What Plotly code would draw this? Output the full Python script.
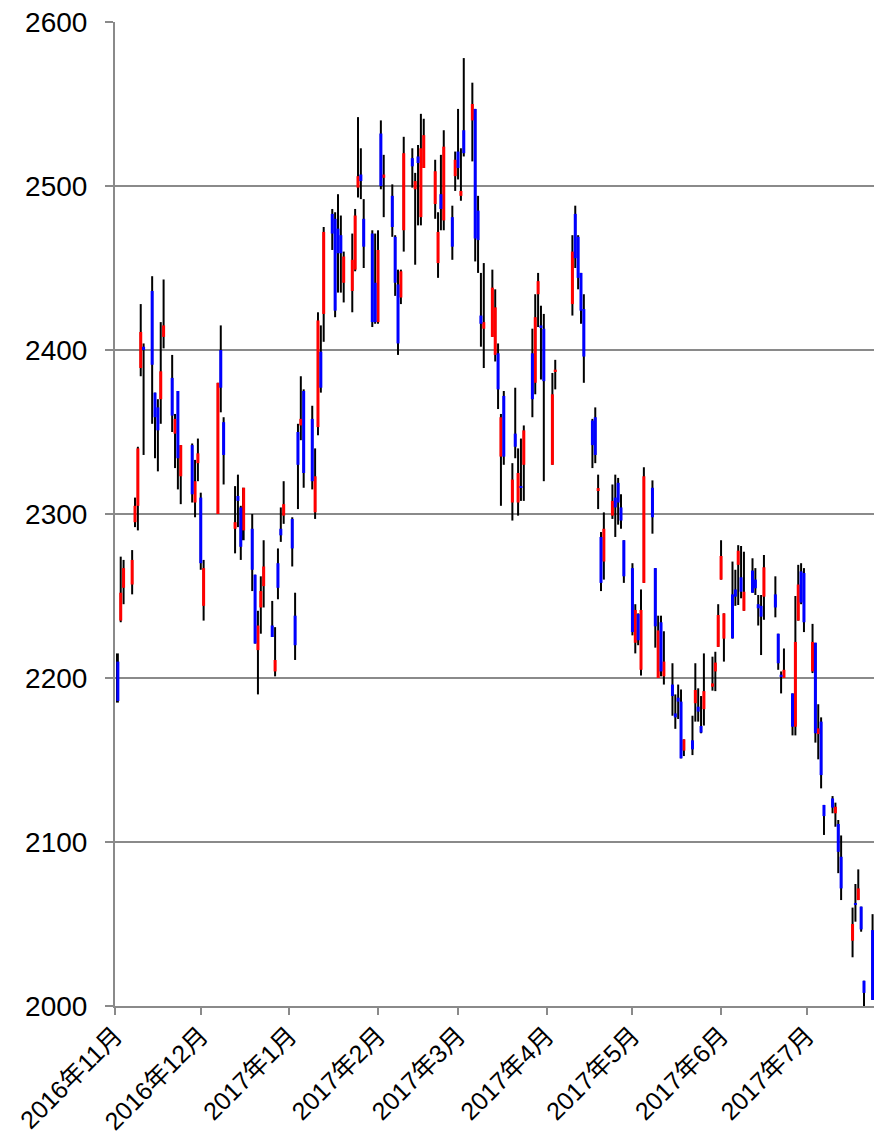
import plotly.graph_objects as go

dates = [
    "2016-11-02", "2016-11-03", "2016-11-04", "2016-11-07", "2016-11-08", "2016-11-09", "2016-11-10", "2016-11-11",
    "2016-11-14", "2016-11-15", "2016-11-16", "2016-11-17", "2016-11-18", "2016-11-21", "2016-11-22", "2016-11-23",
    "2016-11-24", "2016-11-28", "2016-11-29", "2016-11-30", "2016-12-01", "2016-12-02", "2016-12-07", "2016-12-08",
    "2016-12-09", "2016-12-13", "2016-12-14", "2016-12-15", "2016-12-16", "2016-12-19", "2016-12-20", "2016-12-21",
    "2016-12-22", "2016-12-23", "2016-12-26", "2016-12-27", "2016-12-28", "2016-12-29", "2016-12-30", "2017-01-02",
    "2017-01-03", "2017-01-04", "2017-01-05", "2017-01-06", "2017-01-09", "2017-01-10", "2017-01-11", "2017-01-12",
    "2017-01-13", "2017-01-16", "2017-01-17", "2017-01-18", "2017-01-19", "2017-01-20", "2017-01-23", "2017-01-24",
    "2017-01-25", "2017-01-26", "2017-01-27", "2017-01-30", "2017-01-31", "2017-02-01", "2017-02-02", "2017-02-03",
    "2017-02-06", "2017-02-07", "2017-02-08", "2017-02-09", "2017-02-10", "2017-02-13", "2017-02-14", "2017-02-15",
    "2017-02-16", "2017-02-17", "2017-02-21", "2017-02-22", "2017-02-23", "2017-02-24", "2017-02-27", "2017-02-28",
    "2017-03-01", "2017-03-02", "2017-03-03", "2017-03-06", "2017-03-07", "2017-03-08", "2017-03-09", "2017-03-10",
    "2017-03-13", "2017-03-14", "2017-03-15", "2017-03-16", "2017-03-17", "2017-03-20", "2017-03-21", "2017-03-22",
    "2017-03-23", "2017-03-24", "2017-03-27", "2017-03-28", "2017-03-29", "2017-03-30", "2017-03-31", "2017-04-03",
    "2017-04-04", "2017-04-10", "2017-04-11", "2017-04-12", "2017-04-13", "2017-04-14", "2017-04-17", "2017-04-18",
    "2017-04-19", "2017-04-20", "2017-04-21", "2017-04-24", "2017-04-25", "2017-04-26", "2017-04-27", "2017-04-28",
    "2017-05-01", "2017-05-02", "2017-05-03", "2017-05-04", "2017-05-05", "2017-05-08", "2017-05-09", "2017-05-10",
    "2017-05-11", "2017-05-12", "2017-05-15", "2017-05-16", "2017-05-17", "2017-05-18", "2017-05-19", "2017-05-22",
    "2017-05-23", "2017-05-24", "2017-05-25", "2017-05-26", "2017-05-29", "2017-05-30", "2017-05-31", "2017-06-01",
    "2017-06-02", "2017-06-05", "2017-06-06", "2017-06-07", "2017-06-08", "2017-06-09", "2017-06-12", "2017-06-13",
    "2017-06-14", "2017-06-15", "2017-06-16", "2017-06-20", "2017-06-21", "2017-06-22", "2017-06-23", "2017-06-26",
    "2017-06-27", "2017-06-28", "2017-06-29", "2017-06-30", "2017-07-03", "2017-07-04", "2017-07-05", "2017-07-06",
    "2017-07-07", "2017-07-10", "2017-07-11", "2017-07-12", "2017-07-13", "2017-07-17", "2017-07-18", "2017-07-19",
    "2017-07-20", "2017-07-21", "2017-07-24",
]

open_ = [
    2210, 2235, 2255, 2257, 2295, 2305, 2389, 2402, 2436, 2374, 2365, 2370, 2408, 2383, 2349, 2375,
    2323, 2342, 2307, 2331, 2310, 2244, 2300, 2400, 2356, 2291, 2311, 2304, 2290, 2291, 2263, 2217,
    2243, 2256, 2232, 2204, 2270, 2291, 2299, 2297, 2238, 2350, 2354, 2375, 2358, 2301, 2353, 2399,
    2422, 2483, 2480, 2474, 2470, 2441, 2436, 2449, 2499, 2507, 2480, 2471, 2441, 2417, 2532, 2505,
    2494, 2469, 2440, 2432, 2473, 2517, 2498, 2518, 2481, 2511, 2489, 2453, 2495, 2479, 2481, 2506,
    2521, 2494, 2534, 2540, 2547, 2485, 2421, 2413, 2408, 2397, 2398, 2335, 2372, 2307, 2349, 2307,
    2317, 2330, 2398, 2380, 2434, 2415, 2413, 2330, 2386.6, 2428, 2483, 2469, 2447, 2425, 2357, 2359,
    2314.6, 2286, 2271, 2299, 2310, 2319, 2304, 2284, 2267, 2221.5, 2239, 2205, 2258, 2316, 2267, 2200,
    2234, 2201, 2196, 2178.4, 2188, 2185.6, 2155.7, 2162, 2184.6, 2182.5, 2170.7, 2181, 2194.7, 2204, 2219, 2260,
    2224, 2251, 2254, 2269, 2261.4, 2241, 2265.5, 2260, 2245, 2244, 2249.6, 2251, 2227, 2202, 2200, 2190.6,
    2170.3, 2235, 2265, 2264, 2204, 2221.5, 2165.8, 2173.4, 2122.6, 2126.6, 2117.5, 2111, 2091, 2039.8, 2062.6, 2064.6,
    2060.6, 2015.4, 2046.3,
]

high = [
    2215, 2274, 2272, 2278, 2310, 2341, 2428, 2404, 2445, 2374, 2370, 2417, 2443, 2397, 2361, 2375,
    2342, 2343, 2333, 2346, 2313, 2272, 2380, 2415, 2359, 2317, 2324, 2305, 2316, 2300, 2263, 2241,
    2262, 2284, 2247, 2231, 2279, 2304, 2320, 2298, 2252, 2355, 2384, 2376, 2366, 2340, 2423, 2415,
    2475, 2486, 2484, 2495, 2482, 2460, 2471, 2486, 2542, 2523, 2492, 2473, 2471, 2473, 2540, 2519,
    2501, 2470, 2449, 2449, 2530, 2523, 2508, 2525, 2544, 2541, 2516, 2484, 2519, 2534, 2488, 2521,
    2547, 2523, 2578, 2563, 2547, 2494, 2447, 2453, 2449, 2437, 2404, 2361, 2375, 2331, 2377, 2340,
    2346, 2354, 2413, 2434, 2447, 2427, 2422, 2386, 2394, 2470, 2488, 2470, 2447, 2434, 2358, 2365,
    2324, 2289, 2301, 2318, 2324, 2322, 2312, 2284, 2270, 2245, 2239.4, 2254, 2328.5, 2320.5, 2267, 2238,
    2238, 2228.5, 2209, 2190, 2196, 2193, 2162.6, 2177, 2209, 2193.7, 2189, 2215, 2213, 2216, 2245, 2284,
    2239.4, 2271, 2266, 2281, 2280.5, 2277, 2273, 2267, 2250.6, 2250.6, 2275, 2262, 2227, 2204, 2218, 2190.6,
    2250, 2269, 2270, 2267, 2233, 2221.5, 2184, 2176, 2122.6, 2128, 2124, 2113.4, 2104, 2060, 2074.4, 2083.3,
    2060.6, 2015.4, 2056,
]

low = [
    2185, 2234, 2245, 2251, 2292, 2290, 2384, 2336, 2355, 2334, 2326, 2355, 2401, 2350, 2328, 2315,
    2306, 2307, 2298, 2320, 2266, 2235, 2300, 2362, 2318, 2276, 2292, 2272, 2284, 2253, 2221, 2190,
    2227, 2243, 2225, 2201, 2248, 2283, 2294, 2268, 2211, 2303, 2345, 2316, 2315, 2297, 2348, 2374,
    2405, 2461, 2420, 2435, 2435, 2429, 2423, 2448, 2493, 2492, 2450, 2414, 2416, 2416, 2498, 2481,
    2469, 2433, 2397, 2428, 2460, 2499, 2452, 2476, 2476, 2511, 2480, 2444, 2473, 2473, 2455, 2497,
    2504, 2491, 2518, 2515, 2454, 2447, 2402, 2389, 2408, 2393, 2364, 2305, 2330, 2296, 2334, 2299,
    2308, 2308, 2359, 2373, 2414, 2382, 2320, 2330, 2376, 2421, 2450, 2437, 2416, 2380, 2328, 2331,
    2303, 2253, 2260, 2297, 2286, 2293.5, 2291, 2258, 2226, 2215, 2220, 2201.5, 2258, 2288, 2218.5, 2200,
    2201, 2196, 2177, 2169, 2175, 2151, 2152.4, 2153, 2173.4, 2173.4, 2166.3, 2171, 2192.3, 2192, 2219, 2260,
    2210, 2224, 2244, 2244.5, 2248.6, 2241, 2252, 2250.6, 2232, 2214, 2235.5, 2237, 2205, 2190.6, 2200, 2165,
    2165, 2235, 2245, 2228, 2203, 2160.6, 2150.4, 2132.7, 2104.3, 2117.5, 2109.3, 2081, 2064.6, 2029.7, 2051.4, 2064.6,
    2045.3, 2000, 2003.7,
]

close = [
    2186, 2252, 2267, 2272, 2305, 2340, 2411, 2400, 2391, 2359, 2351, 2387, 2415, 2360, 2358, 2334,
    2342, 2312, 2320, 2337, 2270, 2267, 2380, 2377, 2336, 2295, 2308, 2280, 2316, 2266, 2221, 2232,
    2253, 2268, 2225, 2211, 2255, 2287, 2306, 2279, 2220, 2330, 2358, 2325, 2320, 2323, 2418, 2377,
    2472, 2471, 2424, 2459, 2459, 2457, 2455, 2482, 2506, 2503, 2463, 2417, 2417, 2461, 2500, 2507,
    2475, 2441, 2404, 2448, 2520, 2512, 2503, 2514, 2523, 2531, 2509, 2472, 2486, 2524, 2463, 2516,
    2511, 2497, 2520, 2550, 2468, 2467, 2416, 2417, 2438, 2426, 2376, 2359, 2335, 2321, 2341, 2325,
    2316, 2351, 2370, 2420, 2442, 2414, 2381, 2373, 2388, 2460, 2456, 2444, 2424, 2396, 2342, 2336,
    2315.8, 2258, 2291, 2308, 2304, 2307, 2296, 2262, 2228, 2241.5, 2223, 2241.5, 2323, 2298, 2231.5, 2229,
    2204, 2210, 2189, 2176, 2185.6, 2151, 2162.6, 2156.5, 2192.7, 2179.5, 2166.7, 2192, 2196.7, 2209.4, 2238.4, 2274.4,
    2239.4, 2224.2, 2249.6, 2277.6, 2252.6, 2252.6, 2252, 2254.7, 2242.5, 2237.4, 2267.5, 2243, 2209, 2201, 2205, 2170.3,
    2222, 2257, 2246, 2234, 2222, 2166.3, 2169.3, 2140.8, 2115.8, 2121, 2121.5, 2094, 2071.7, 2050, 2061.6, 2071.7,
    2046.7, 2008, 2003.7,
]

month_ticks = ["2016-11-01", "2016-12-01", "2017-01-01", "2017-02-01", "2017-03-01",
               "2017-04-01", "2017-05-01", "2017-06-01", "2017-07-01"]
month_labels = ["2016年11月", "2016年12月", "2017年1月", "2017年2月", "2017年3月",
                "2017年4月", "2017年5月", "2017年6月", "2017年7月"]

DAY_MS = 86400000
wick_w = 0.7 * DAY_MS
body_w = 1.05 * DAY_MS

up = [i for i in range(len(dates)) if close[i] >= open_[i]]
down = [i for i in range(len(dates)) if close[i] < open_[i]]

fig = go.Figure()
fig.add_trace(go.Bar(
    x=dates, base=low, y=[h - l for h, l in zip(high, low)],
    width=[wick_w] * len(dates), marker=dict(color="#000000", line=dict(width=0)),
    showlegend=False, hoverinfo="skip",
))
fig.add_trace(go.Bar(
    x=[dates[i] for i in up], base=[open_[i] for i in up],
    y=[close[i] - open_[i] for i in up],
    width=[body_w] * len(up), marker=dict(color="#FF0000", line=dict(width=0)),
    showlegend=False,
))
fig.add_trace(go.Bar(
    x=[dates[i] for i in down], base=[close[i] for i in down],
    y=[open_[i] - close[i] for i in down],
    width=[body_w] * len(down), marker=dict(color="#0000FF", line=dict(width=0)),
    showlegend=False,
))

GRID = "#8a8a8a"
FONT = "Liberation Sans, Noto Sans CJK JP, sans-serif"

fig.update_layout(
    width=874, height=1138,
    margin=dict(l=115, r=0, t=22, b=132),
    paper_bgcolor="white", plot_bgcolor="white",
    barmode="overlay",
    font=dict(family=FONT, size=28, color="black"),
    xaxis=dict(
        type="date",
        range=["2016-11-01", "2017-07-24 12:00"],
        tickvals=month_ticks, ticktext=month_labels,
        tickangle=-45,
        automargin=False,
        showgrid=False, zeroline=False,
        showline=True, linecolor=GRID, linewidth=2,
        ticks="outside", ticklen=7, tickwidth=2, tickcolor=GRID,
        tickfont=dict(family=FONT, size=25, color="black"),
        ticklabelstandoff=-4,
    ),
    yaxis=dict(
        range=[2000, 2600], dtick=100, tick0=2000,
        automargin=False,
        showgrid=True, gridcolor=GRID, gridwidth=2,
        zeroline=False,
        showline=True, linecolor=GRID, linewidth=2,
        ticks="outside", ticklen=8, tickwidth=2, tickcolor=GRID,
        tickfont=dict(family=FONT, size=28, color="black"),
        ticklabelstandoff=12,
    ),
)

fig.write_html(
    "out.html",
    config={"displayModeBar": False},
    post_script="document.body.style.margin='0';document.body.style.overflow='hidden';",
)
